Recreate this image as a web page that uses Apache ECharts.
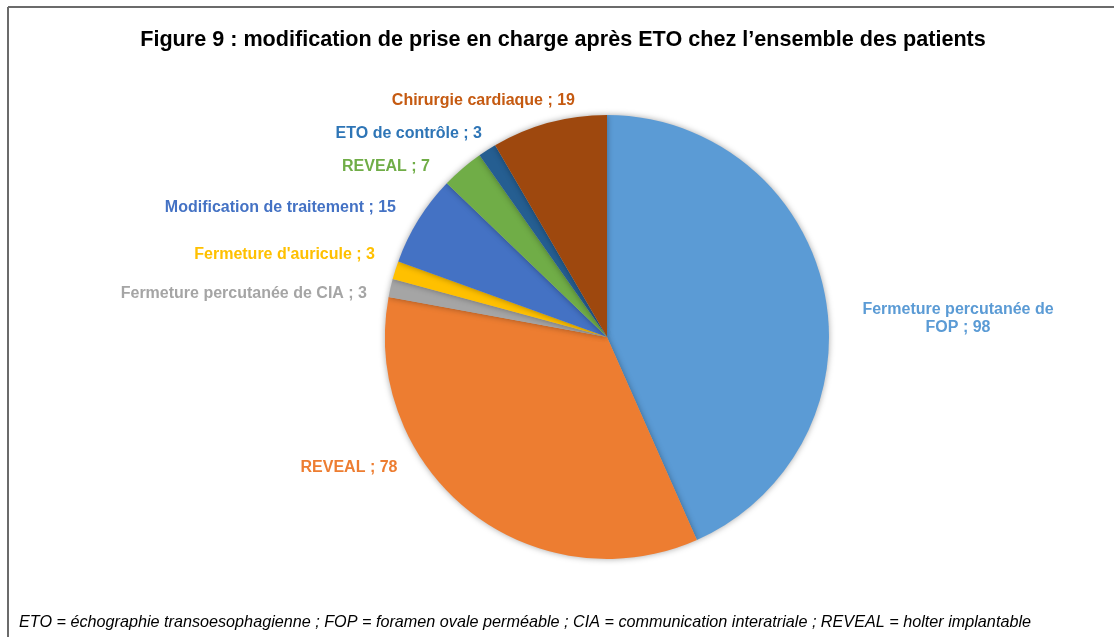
<!DOCTYPE html>
<html>
<head>
<meta charset="utf-8">
<script src="https://cdn.jsdelivr.net/npm/echarts@6/dist/echarts.min.js"></script>
<style>
html,body{margin:0;padding:0;background:#fff;}
#chart{width:1114px;height:637px;}
</style>
</head>
<body>
<div id="chart"></div>
<script>
// Data
const categories = [
  'Fermeture percutanée de\nFOP',
  'REVEAL',
  'Fermeture percutanée de CIA',
  "Fermeture d'auricule",
  'Modification de traitement',
  'REVEAL',
  'ETO de contrôle',
  'Chirurgie cardiaque'
];
const values = [98, 78, 3, 3, 15, 7, 3, 19];
const colors = ['#5B9BD5', '#ED7D31', '#A5A5A5', '#FFC000', '#4472C4', '#70AD47', '#255E91', '#9E480E'];
const labelColors = ['#5B9BD5', '#ED7D31', '#A5A5A5', '#FFC000', '#4472C4', '#70AD47', '#2E75B6', '#C55A11'];
const titleText = 'Figure 9 : modification de prise en charge après ETO chez l\u2019ensemble des patients';
const footnote = 'ETO = échographie transoesophagienne ; FOP = foramen ovale perméable ; CIA = communication interatriale ; REVEAL = holter implantable';

// label anchor layout (text positions only)
const labelAnchors = [
  {x: 958, y: 319, align: 'center'},
  {x: 349, y: 468, align: 'center'},
  {x: 367, y: 294, align: 'right'},
  {x: 375, y: 255, align: 'right'},
  {x: 396, y: 208, align: 'right'},
  {x: 430, y: 167, align: 'right'},
  {x: 482, y: 134, align: 'right'},
  {x: 575, y: 101, align: 'right'}
];

const chart = echarts.init(document.getElementById('chart'));
const data = categories.map((c, i) => ({
  name: c, value: values[i],
  itemStyle: {color: colors[i]},
  label: {color: labelColors[i]}
}));

chart.setOption({
  backgroundColor: '#fff',
  animation: false,
  title: {
    text: titleText,
    left: 558, top: 24, textAlign: 'center',
    textStyle: {fontFamily: 'Liberation Sans, Arial, sans-serif', fontWeight: 'bold', fontSize: 21.6, color: '#000'}
  },
  graphic: [
    {type: 'line', shape: {x1: 8, y1: 7, x2: 1114, y2: 7}, style: {stroke: '#6b6b6b', lineWidth: 2}},
    {type: 'line', shape: {x1: 8, y1: 7, x2: 8, y2: 637}, style: {stroke: '#6b6b6b', lineWidth: 2}},
    {type: 'text', left: 19, top: 614, style: {text: footnote, font: 'italic 16.2px "Liberation Sans", Arial, sans-serif', fill: '#000'}}
  ],
  series: [{
    type: 'pie',
    center: [607, 337],
    radius: 222,
    startAngle: 90,
    clockwise: true,
    data: data,
    itemStyle: {shadowBlur: 6, shadowColor: 'rgba(0,0,0,0.35)'},
    label: {
      show: true,
      formatter: p => p.name + ' ; ' + p.value,
      fontFamily: 'Liberation Sans, Arial, sans-serif',
      fontWeight: 'bold',
      fontSize: 16,
      lineHeight: 18
    },
    labelLine: {show: false},
    labelLayout: function (params) {
      const a = labelAnchors[params.dataIndex];
      return {x: a.x, y: a.y, align: a.align, verticalAlign: 'middle'};
    },
    emphasis: {disabled: true}
  }]
});
</script>
</body>
</html>
